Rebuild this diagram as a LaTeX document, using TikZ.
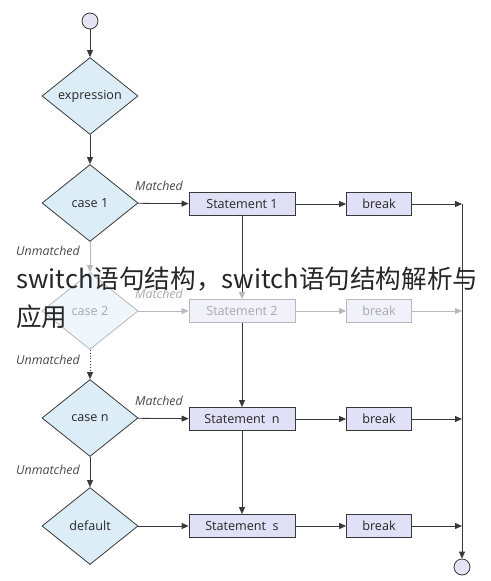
\documentclass[tikz,border=0pt]{standalone}
\usepackage{fontspec}
\setmainfont{Open Sans}
\newfontfamily\cjk{Noto Sans CJK SC}
\usetikzlibrary{shapes.geometric,arrows.meta}
\definecolor{diafill}{HTML}{DCEDF8}
\definecolor{boxfill}{HTML}{E0E0F6}
\definecolor{circfill}{HTML}{E4E4F4}
\definecolor{linec}{HTML}{383838}
\definecolor{labc}{HTML}{484848}
\definecolor{fadel}{HTML}{B8B8BC}
\definecolor{fadet}{HTML}{A8A8B0}
\tikzset{
  dia/.style={diamond, draw=linec, fill=diafill, line width=0.8pt, minimum width=96pt, minimum height=77pt, inner sep=0pt, font=\fontsize{12.6}{14}\selectfont, text=black!85},
  stbox/.style={rectangle, draw=linec, fill=boxfill, line width=0.8pt, minimum width=106pt, minimum height=23pt, inner sep=0pt, font=\fontsize{12.6}{14}\selectfont, text=black!85},
  brbox/.style={stbox, minimum width=65pt},
  term/.style={circle, draw=linec, fill=circfill, line width=0.8pt, minimum size=16pt, inner sep=0pt},
  lab/.style={font=\itshape\fontsize{12.4}{14}\selectfont, text=labc, inner sep=0pt},
  arr/.style={draw=linec, line width=0.8pt, -{Triangle[length=7pt,width=6pt]}},
  ln/.style={draw=linec, line width=0.8pt},
  faded/.style={draw=fadel, text=fadet},
  fadearr/.style={draw=fadel, line width=0.8pt, -{Triangle[length=7pt,width=6pt]}},
}
\begin{document}
\begin{tikzpicture}[x=1pt,y=-1pt]
\useasboundingbox (0,0) rectangle (490,581);
% start / end
\node[term] (start) at (90,21) {};
\node[term] (endc) at (462,567) {};
% diamonds
\node[dia] (expr) at (90,96) {expression};
\node[dia] (c1) at (90,203) {case 1};
\node[dia, faded, fill=diafill!45] (c2) at (90,311) {case 2};
\node[dia] (cn) at (90,418) {case n};
\node[dia] (def) at (90,526) {default};
% statements
\node[stbox] (s1) at (242,204) {Statement 1};
\node[stbox, faded, fill=boxfill!45] (s2) at (242,311) {Statement 2};
\node[stbox] (sn) at (242,419) {Statement\ \ n};
\node[stbox] (ss) at (242,526) {Statement\ \ s};
% breaks
\node[brbox] (b1) at (379,204) {break};
\node[brbox, faded, fill=boxfill!45] (b2) at (379,311) {break};
\node[brbox] (bn) at (379,419) {break};
\node[brbox] (bs) at (379,526) {break};
% right collector line
\coordinate (r1) at (462,204);
\coordinate (r2) at (462,311);
\coordinate (rn) at (462,419);
\coordinate (rs) at (462,526);
% labels
\node[lab] (m1) at (159,186) {Matched};
\node[lab, text=fadet] (m2) at (159,294) {Matched};
\node[lab] (mn) at (159,401) {Matched};
\node[lab] (u1) at (48,251) {Unmatched};
\node[lab] (u2) at (48,360) {Unmatched};
\node[lab] (un) at (48,470) {Unmatched};
% connectors
\draw[arr] (start) -- (expr);
\draw[arr] (expr) -- (c1);
\draw[fadearr] (c1) -- (c2);
\draw[arr, dotted] (c2) -- (cn);
\draw[arr] (cn) -- (def);
\draw[arr] (c1) -- (s1);
\draw[fadearr] (c2) -- (s2);
\draw[arr] (cn) -- (sn);
\draw[arr] (def) -- (ss);
\draw[arr] (s1) -- (b1);
\draw[fadearr] (s2) -- (b2);
\draw[arr] (sn) -- (bn);
\draw[arr] (ss) -- (bs);
\draw[arr] (b1) -- (r1);
\draw[fadearr] (b2) -- (r2);
\draw[arr] (bn) -- (rn);
\draw[arr] (bs) -- (rs);
\draw[ln, -{Triangle[length=7pt,width=6pt,color=fadel]}] (s1) -- (s2);
\draw[arr] (s2) -- (sn);
\draw[arr] (sn) -- (ss);
\draw[arr] (r1) -- (endc);
% overlay text
\node[anchor=north west, align=left, inner sep=0pt, text=black!85, font=\cjk\fontsize{25.6}{38}\selectfont] (wm) at (16,267) {switch语句结构，switch语句结构解析与\\应用};
\end{tikzpicture}
\end{document}
